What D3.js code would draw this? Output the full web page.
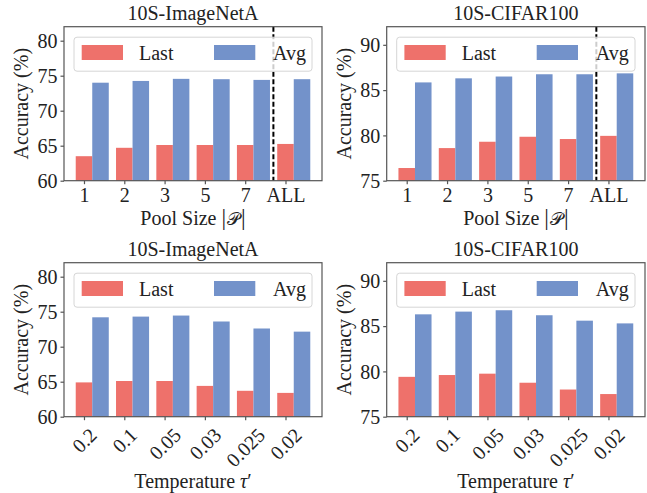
<!DOCTYPE html>
<html><head><meta charset="utf-8">
<script src="https://cdn.jsdelivr.net/npm/d3@7"></script>
<style>html,body{margin:0;padding:0;background:#fff;}</style>
</head><body>
<svg id="chart" width="647" height="493"></svg>
<script>
// ---- data ----
const poolLabels = ["1", "2", "3", "5", "7", "ALL"];
const tempLabels = ["0.2", "0.1", "0.05", "0.03", "0.025", "0.02"];
const seriesNames = ["Last", "Avg"];
const inetPoolLast = [63.5, 64.7, 65.1, 65.1, 65.1, 65.25];
const inetPoolAvg  = [74.0, 74.25, 74.55, 74.5, 74.4, 74.5];
const cifarPoolLast = [76.4, 78.6, 79.3, 79.85, 79.6, 79.95];
const cifarPoolAvg  = [85.85, 86.3, 86.5, 86.75, 86.75, 86.85];
const inetTempLast = [64.9, 65.1, 65.1, 64.4, 63.7, 63.4];
const inetTempAvg  = [74.2, 74.3, 74.45, 73.6, 72.6, 72.15];
const cifarTempLast = [79.4, 79.6, 79.75, 78.75, 78.0, 77.5];
const cifarTempAvg  = [86.3, 86.6, 86.75, 86.2, 85.6, 85.3];
const inetTicks = [60, 65, 70, 75, 80];
const cifarTicks = [75, 80, 85, 90];
const inetDomain = [60, 82];
const cifarDomain = [75, 92];
const poolSplit = 4.7;

// ---- style ----
const FONT = "'Liberation Serif','Times New Roman',serif";
const FS = 20;
const RED = "#EE716B";
const BLUE = "#7392CA";
const SPINE = "#555555";
const BARW = 0.41;

const svg = d3.select("#chart");

const panels = [
  {title:"10S-ImageNetA", labels:poolLabels, last:inetPoolLast, avg:inetPoolAvg, ticks:inetTicks, dom:inetDomain,
   box:[64, 26.7, 322, 180.7], kind:"pool"},
  {title:"10S-CIFAR100", labels:poolLabels, last:cifarPoolLast, avg:cifarPoolAvg, ticks:cifarTicks, dom:cifarDomain,
   box:[386.7, 26.7, 645, 180.7], kind:"pool"},
  {title:"10S-ImageNetA", labels:tempLabels, last:inetTempLast, avg:inetTempAvg, ticks:inetTicks, dom:inetDomain,
   box:[64, 262.7, 322, 416.7], kind:"temp"},
  {title:"10S-CIFAR100", labels:tempLabels, last:cifarTempLast, avg:cifarTempAvg, ticks:cifarTicks, dom:cifarDomain,
   box:[386.7, 262.7, 645, 416.7], kind:"temp"}
];

panels.forEach(p => {
  const [x0, y0, x1, y1] = p.box;
  const n = p.labels.length;
  const lo = -BARW/2, hi = (n-1) + 1.5*BARW;
  const m = (hi - lo) * 0.05;
  const x = d3.scaleLinear().domain([lo - m, hi + m]).range([x0, x1]);
  const y = d3.scaleLinear().domain(p.dom).range([y1, y0]);
  const g = svg.append("g");

  const rows = p.labels.map((l, i) => ({i, l, last:p.last[i], avg:p.avg[i]}));
  // bars
  g.selectAll("rect.last").data(rows).enter().append("rect")
    .attr("x", d => x(d.i - BARW/2)).attr("width", d => x(BARW) - x(0))
    .attr("y", d => y(d.last)).attr("height", d => y(p.dom[0]) - y(d.last))
    .attr("fill", RED);
  g.selectAll("rect.avg").data(rows).enter().append("rect")
    .attr("x", d => x(d.i + BARW/2)).attr("width", d => x(BARW) - x(0))
    .attr("y", d => y(d.avg)).attr("height", d => y(p.dom[0]) - y(d.avg))
    .attr("fill", BLUE);

  if (p.kind === "pool") {
    g.append("line").attr("x1", x(poolSplit)).attr("x2", x(poolSplit))
      .attr("y1", y0).attr("y2", y1)
      .attr("stroke", "#000").attr("stroke-width", 2).attr("stroke-dasharray", "5,2.5");
  }

  // axes
  const yAxis = d3.axisLeft(y).tickValues(p.ticks).tickSize(3.5).tickPadding(3);
  const ya = g.append("g").attr("transform", `translate(${x0},0)`).call(yAxis);
  ya.select(".domain").remove();
  ya.selectAll("line").attr("stroke", SPINE).attr("stroke-width", 1.2);
  ya.selectAll("text").attr("font-family", FONT).attr("font-size", FS).attr("fill", "#222").attr("dy", "0.34em");

  const xAxis = d3.axisBottom(x).tickValues(d3.range(n)).tickFormat(i => p.labels[i]).tickSize(3.5).tickPadding(3);
  const xa = g.append("g").attr("transform", `translate(0,${y1})`).call(xAxis);
  xa.select(".domain").remove();
  xa.selectAll("line").attr("stroke", SPINE).attr("stroke-width", 1.2);
  xa.selectAll("text").attr("font-family", FONT).attr("font-size", FS).attr("fill", "#222");
  if (p.kind === "temp") {
    xa.selectAll(".tick text").each(function() {
      const t = d3.select(this);
      t.attr("y", null).attr("dy", null).attr("text-anchor", "middle");
      const W = this.getComputedTextLength();
      const H = FS * 1.107;
      const half = (W + H) / (2 * Math.SQRT2);
      t.attr("transform", `translate(0,${7 + half}) rotate(-45)`).attr("dy", "0.34em").attr("y", 0);
    });
  } else {
    xa.selectAll(".tick text").attr("dy", "0.75em");
  }

  // spines
  g.append("rect").attr("x", x0).attr("y", y0).attr("width", x1 - x0).attr("height", y1 - y0)
    .attr("fill", "none").attr("stroke", SPINE).attr("stroke-width", 1.2);

  // title
  g.append("text").attr("x", (x0 + x1)/2).attr("y", y0 - 6.7).attr("text-anchor", "middle")
    .attr("font-family", FONT).attr("font-size", FS).attr("fill", "#222").text(p.title);

  // y label
  g.append("text").attr("transform", `translate(${x0 - 36},${(y0 + y1)/2}) rotate(-90)`)
    .attr("text-anchor", "middle").attr("font-family", FONT).attr("font-size", FS).attr("fill", "#222")
    .text("Accuracy (%)");

  // x label
  const xl = g.append("text").attr("x", (x0 + x1)/2).attr("text-anchor", "middle")
    .attr("font-family", FONT).attr("font-size", FS).attr("fill", "#222");
  if (p.kind === "pool") {
    xl.attr("y", y1 + 43.8);
    xl.append("tspan").text("Pool Size ");
    xl.append("tspan").attr("font-size", 23).text("|");
    xl.append("tspan").attr("font-size", 18).attr("dx", 1).text("𝒫");
    xl.append("tspan").attr("font-size", 23).attr("dx", 1).text("|");
  } else {
    xl.attr("y", y1 + 71.5);
    xl.append("tspan").text("Temperature ");
    xl.append("tspan").attr("font-style", "italic").text("τ");
    xl.append("tspan").text("′");
  }

  // legend
  const lg = g.append("g");
  lg.append("rect").attr("x", x0 + 10).attr("y", y0 + 10.5).attr("width", (x1 - x0) - 20).attr("height", 34)
    .attr("rx", 3).attr("fill", "#fff").attr("fill-opacity", 0.8)
    .attr("stroke", "#d6d6d6").attr("stroke-width", 1);
  const items = [{name:seriesNames[0], c:RED, px:17.7, tx:75}, {name:seriesNames[1], c:BLUE, px:150, tx:209}];
  items.forEach(it => {
    lg.append("rect").attr("x", x0 + it.px).attr("y", y0 + 18.3).attr("width", 41.3).attr("height", 15)
      .attr("fill", it.c);
    lg.append("text").attr("x", x0 + it.tx).attr("y", y0 + 32.8)
      .attr("font-family", FONT).attr("font-size", FS).attr("fill", "#222").text(it.name);
  });
});
</script>
</body></html>
